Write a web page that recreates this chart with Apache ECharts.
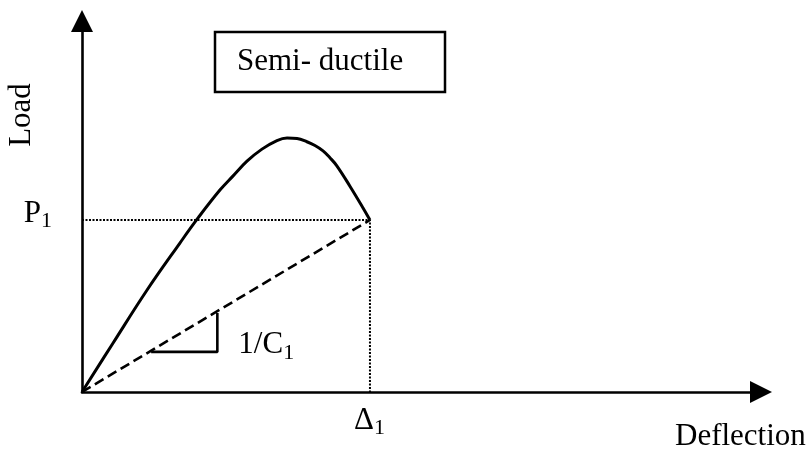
<!DOCTYPE html>
<html><head><meta charset="utf-8">
<script src="https://cdn.jsdelivr.net/npm/echarts@6/dist/echarts.min.js"></script>
<style>html,body{margin:0;padding:0;background:#fff}#c{width:812px;height:452px}</style>
</head><body><div id="c"></div>
<script>
// ---- data (arbitrary units: Δ1 = 10, P1 = 10) ----
const loadCurve = [[0,0],[1.08,2.85],[2.26,5.93],[3.40,8.66],[4.03,10.12],[4.79,11.74],[5.24,12.55],[5.73,13.42],[6.25,14.12],[6.77,14.62],[7.12,14.77],[7.47,14.74],[7.81,14.55],[8.09,14.33],[8.37,14.02],[8.61,13.62],[8.85,13.15],[9.31,11.95],[9.76,10.70],[10,10]];
const secantLine = [[0,0],[10,10]];
const slopeTriangle = [[2.4,2.33],[4.7,2.33],[4.7,4.6]];
const P1 = 10;
const DELTA1 = 10;
const xMax = 23.58;
const yMax = 21.57;
const xName = 'Deflection';
const yName = 'Load';
const boxTitle = 'Semi- ductile';
const pLabel = ['P', '1'];
const dLabel = ['Δ', '1'];
const slopeLabel = ['1/C', '1'];

const FONT = '"Liberation Serif","Times New Roman",serif';
const chart = echarts.init(document.getElementById('c'), null, {renderer:'canvas'});
const axisCommon = {
  type:'value', min:0,
  axisLine:{show:true, onZero:true, symbol:['none','triangle'], symbolSize:[22,22], lineStyle:{color:'#000', width:2.6}},
  axisTick:{show:false}, axisLabel:{show:false}, splitLine:{show:false}
};
chart.setOption({
  animation:false,
  backgroundColor:'#fff',
  grid:{left:82, right:51, top:21, bottom:60, containLabel:false},
  xAxis: Object.assign({}, axisCommon, {max:xMax}),
  yAxis: Object.assign({}, axisCommon, {max:yMax}),
  series:[
    {type:'line', data:loadCurve, smooth:0.4, symbol:'none', silent:true,
     lineStyle:{color:'#000', width:3}},
    {type:'line', data:secantLine, symbol:'none', silent:true,
     lineStyle:{color:'#000', width:2.6, type:[10,5]}},
    {type:'line', data:[[0,P1],[DELTA1,P1],[DELTA1,0]], symbol:'none', silent:true,
     lineStyle:{color:'#000', width:2, type:[2,1.5]}},
    {type:'line', data:slopeTriangle, symbol:'none', silent:true,
     lineStyle:{color:'#000', width:2.6}}
  ]
});

const o = chart.convertToPixel({gridIndex:0}, [0,0]);
const pP = chart.convertToPixel({gridIndex:0}, [0,P1]);
const pD = chart.convertToPixel({gridIndex:0}, [DELTA1,0]);
const pT = chart.convertToPixel({gridIndex:0}, slopeTriangle[1]);
const xEnd = chart.convertToPixel({gridIndex:0}, [xMax,0]);

function richText(parts, x, y, align){
  return {type:'text', x:x, y:y, silent:true, style:{
    text:'{m|'+parts[0]+'}{s|'+parts[1]+'}', align:align, textAlign:align, verticalAlign:'middle', textVerticalAlign:'middle', fill:'#000',
    rich:{m:{fontSize:31, fontFamily:FONT, lineHeight:38, verticalAlign:'middle', fill:'#000', color:'#000'},
          s:{fontSize:22, fontFamily:FONT, lineHeight:22, verticalAlign:'bottom', fill:'#000', color:'#000'}}
  }};
}
function plainText(t, x, y, align, rot){
  return {type:'text', x:x, y:y, rotation:rot||0, silent:true, style:{
    text:t, font:'31px '+FONT, fill:'#000', align:align, textAlign:align, verticalAlign:'middle', textVerticalAlign:'middle'}};
}
chart.setOption({graphic:[
  {type:'rect', shape:{x:215, y:32, width:230, height:60}, style:{fill:'#fff', stroke:'#000', lineWidth:2.5}, silent:true},
  plainText(boxTitle, 237, 62, 'left'),
  plainText(yName, 22, 115, 'center', Math.PI/2),
  plainText(xName, xEnd[0] - 86, o[1] + 45, 'left'),
  richText(pLabel, pP[0] - 30, pP[1] - 6.3, 'right'),
  richText(dLabel, pD[0] - 16, pD[1] + 28.7, 'left'),
  richText(slopeLabel, pT[0] + 21, pT[1] - 7, 'left')
]});
</script>
</body></html>
